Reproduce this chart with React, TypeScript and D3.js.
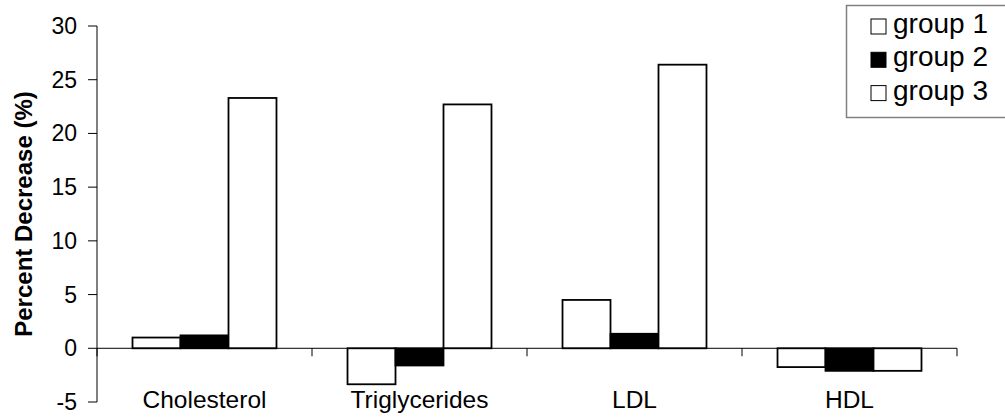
import React from 'react';
import * as d3 from 'd3';

const categories = ['Cholesterol', 'Triglycerides', 'LDL', 'HDL'];
const groups = ['group 1', 'group 2', 'group 3'];
const group1 = [1.0, -3.35, 4.5, -1.75];
const group2 = [1.2, -1.6, 1.35, -2.1];
const group3 = [23.3, 22.7, 26.4, -2.1];
const yTickValues = [-5, 0, 5, 10, 15, 20, 25, 30];

const series = [group1, group2, group3];
const fills = ['#ffffff', '#000000', '#ffffff'];

const App = () => {
    const width = 1005;
    const height = 420;
    const margin = {t: 26, b: 18, l: 97, r: 48};
    const font = 'Arial, "Liberation Sans", sans-serif';

    const x = d3.scaleBand<string>()
        .domain(categories)
        .range([margin.l, width - margin.r])
        .padding(0);

    const x1 = d3.scaleBand<string>()
        .domain(groups)
        .range([0, x.bandwidth()])
        .paddingInner(0)
        .paddingOuter(0.74);

    const y = d3.scaleLinear()
        .domain([-5, 30])
        .range([height - margin.b, margin.t]);

    const y0 = y(0);

    // category boundary ticks
    const xTicks = d3.range(categories.length + 1).map(i => margin.l + i * x.step());

    return (
        <svg width={width} height={height} style={{position: 'absolute', left: 0, top: 0, background: '#fff'}}>
            <g fontFamily={font}>
                {/* y axis */}
                <line x1={margin.l} x2={margin.l} y1={y(30)} y2={y(-5)} stroke="#000" strokeWidth={1}/>
                {yTickValues.map(d =>
                    <g key={d} transform={`translate(${margin.l},${y(d)})`}>
                        <line x1={-9} x2={0} y1={0} y2={0} stroke="#000"/>
                        <text x={-20} y={0} dy="0.35em" textAnchor="end" fontSize={23}>{d}</text>
                    </g>
                )}
                <text transform={`translate(32,${(y(30) + y(-5)) / 2}) rotate(-90)`}
                      textAnchor="middle" fontSize={24} fontWeight="bold">Percent Decrease (%)</text>

                {/* bars */}
                {categories.map((c, i) =>
                    <g key={c} transform={`translate(${x(c)},0)`}>
                        {series.map((s, j) => {
                            const v = s[i];
                            return <rect key={j}
                                         x={x1(groups[j])}
                                         y={Math.min(y(v), y0)}
                                         width={x1.bandwidth()}
                                         height={Math.abs(y(v) - y0)}
                                         fill={fills[j]}
                                         stroke="#000"
                                         strokeWidth={1.8}/>;
                        })}
                    </g>
                )}

                {/* x axis */}
                <line x1={margin.l} x2={width - margin.r} y1={y0} y2={y0} stroke="#000"/>
                {xTicks.map((t, i) =>
                    <line key={i} x1={t} x2={t} y1={y0} y2={y0 + 8} stroke="#000"/>
                )}
                {categories.map(c =>
                    <text key={c} x={(x(c) as number) + x.bandwidth() / 2} y={408}
                          textAnchor="middle" fontSize={24.5}>{c}</text>
                )}

                {/* legend */}
                <rect x={846.5} y={5.5} width={170} height={112} fill="#fff" stroke="#808080" strokeWidth={1.5}/>
                {groups.map((g, j) =>
                    <g key={g} transform={`translate(871,${19 + j * 33.3})`}>
                        <rect x={0} y={0} width={15} height={15} fill={fills[j]} stroke="#000" strokeWidth={1}/>
                        <text x={22} y={14} fontSize={28}>{g}</text>
                    </g>
                )}
            </g>
        </svg>
    );
};

export default App;
